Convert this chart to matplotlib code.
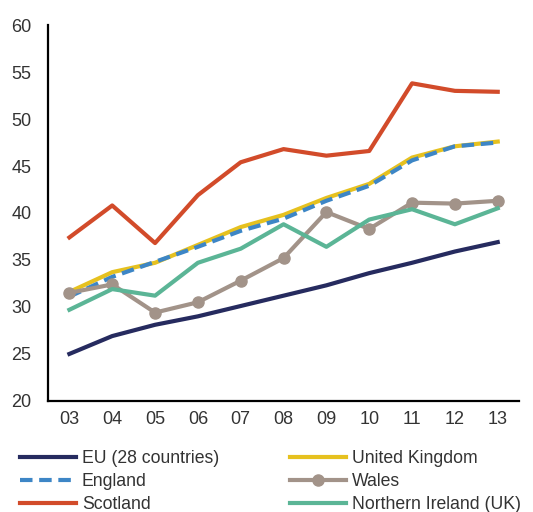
import matplotlib.pyplot as plt
import numpy as np

years = ['03', '04', '05', '06', '07', '08', '09', '10', '11', '12', '13']

eu = [25.0, 26.9, 28.1, 29.0, 30.1, 31.2, 32.3, 33.6, 34.7, 35.9, 36.9]
uk = [31.6, 33.7, 34.7, 36.6, 38.5, 39.8, 41.6, 43.1, 45.9, 47.1, 47.6]
england = [31.1, 33.2, 34.8, 36.4, 38.1, 39.4, 41.3, 42.9, 45.6, 47.1, 47.5]
wales = [31.5, 32.4, 29.4, 30.5, 32.8, 35.2, 40.1, 38.3, 41.1, 41.0, 41.3]
scotland = [37.4, 40.8, 36.8, 41.9, 45.4, 46.8, 46.1, 46.6, 53.8, 53.0, 52.9]
n_ireland = [29.7, 31.9, 31.2, 34.7, 36.2, 38.8, 36.4, 39.3, 40.4, 38.8, 40.5]

plt.rcParams['font.family'] = ['Liberation Sans', 'DejaVu Sans']

fig = plt.figure(figsize=(5.33, 5.12), dpi=100)
ax = fig.add_axes([0.090, 0.217, 0.884, 0.734])

x = np.arange(len(years))
lw = 3.0
ax.plot(x, eu, color='#262b5f', lw=lw, label='EU (28 countries)')
ax.plot(x, uk, color='#e6c11f', lw=lw, label='United Kingdom')
ax.plot(x, england, color='#3d86c6', lw=lw, ls=(0, (3.0, 1.6)), label='England')
ax.plot(x, wales, color='#a29389', lw=lw, marker='o', ms=8, label='Wales')
ax.plot(x, scotland, color='#d24b2a', lw=lw, label='Scotland')
ax.plot(x, n_ireland, color='#5bb596', lw=lw, label='Northern Ireland (UK)')

ax.set_xlim(-0.5, len(years) - 0.5)
ax.set_ylim(20, 60)
ax.set_yticks(range(20, 61, 5))
ax.set_xticks(x)
ax.set_xticklabels(years)
ax.tick_params(length=0, labelsize=13, colors='#333333', pad=7)
ax.tick_params(axis='y', pad=12)
for s in ['top', 'right']:
    ax.spines[s].set_visible(False)
for s in ['left', 'bottom']:
    ax.spines[s].set_linewidth(1.6)
    ax.spines[s].set_color('black')

# legend order: fill column-wise with ncol=2
h, l = ax.get_legend_handles_labels()
order = [0, 2, 4, 1, 3, 5]
fig.legend([h[i] for i in order], [l[i] for i in order], ncol=2,
           loc='upper left', bbox_to_anchor=(0.017, 0.141), frameon=False,
           fontsize=12.7, handlelength=3.2, handletextpad=0.32,
           columnspacing=4.0, labelspacing=0.32, borderpad=0.1,
           labelcolor='#333333')

fig.savefig('out.png', dpi=100)
